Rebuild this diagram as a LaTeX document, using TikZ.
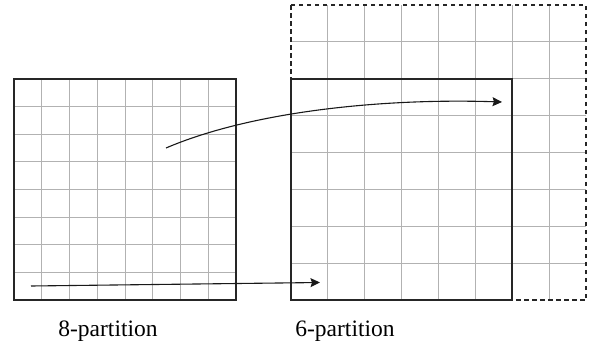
\documentclass[tikz,border=0pt]{standalone}
\usepackage{fontspec}
\setmainfont{Liberation Serif}
\usetikzlibrary{arrows.meta}
\begin{document}
\begin{tikzpicture}[x=1pt,y=-1pt,
  gridline/.style={draw=black!30,line width=1pt},
  frame/.style={draw=black!85,line width=2.2pt},
  dashframe/.style={draw=black!85,line width=1.8pt,dash pattern=on 4.5pt off 3.5pt},
  conn/.style={draw=black!90,line width=1.1pt,-{Stealth[length=9.5pt,width=9pt,inset=1.5pt]}},
  lbl/.style={font=\fontsize{23.5}{28}\selectfont,inner sep=0pt,anchor=base}]
\useasboundingbox (0,0) rectangle (595,343);
% left grid (8-partition)
\foreach \i in {1,...,7} {
  \draw[gridline] ({14+\i*27.75},79) -- ({14+\i*27.75},300);
  \draw[gridline] (14,{79+\i*27.625}) -- (236,{79+\i*27.625});
}
\draw[frame] (14,79) rectangle (236,300);
% right grid (6-partition)
\foreach \i in {1,...,7} {
  \draw[gridline] ({291+\i*36.875},5) -- ({291+\i*36.875},300);
  \draw[gridline] (291,{5+\i*36.875}) -- (586,{5+\i*36.875});
}
\draw[dashframe] (291,5) rectangle (586,300);
\draw[frame] (291,79) rectangle (512,300);
% connectors
\coordinate (a1) at (166,148);
\coordinate (b1) at (502,102);
\coordinate (a2) at (31,286);
\coordinate (b2) at (320,282.5);
\draw[conn] (a1) .. controls (250,112) and (380,98) .. (b1);
\draw[conn] (a2) -- (b2);
% labels
\node[lbl] (l8) at (108,336) {8-partition};
\node[lbl] (l6) at (345,336) {6-partition};
\end{tikzpicture}
\end{document}
